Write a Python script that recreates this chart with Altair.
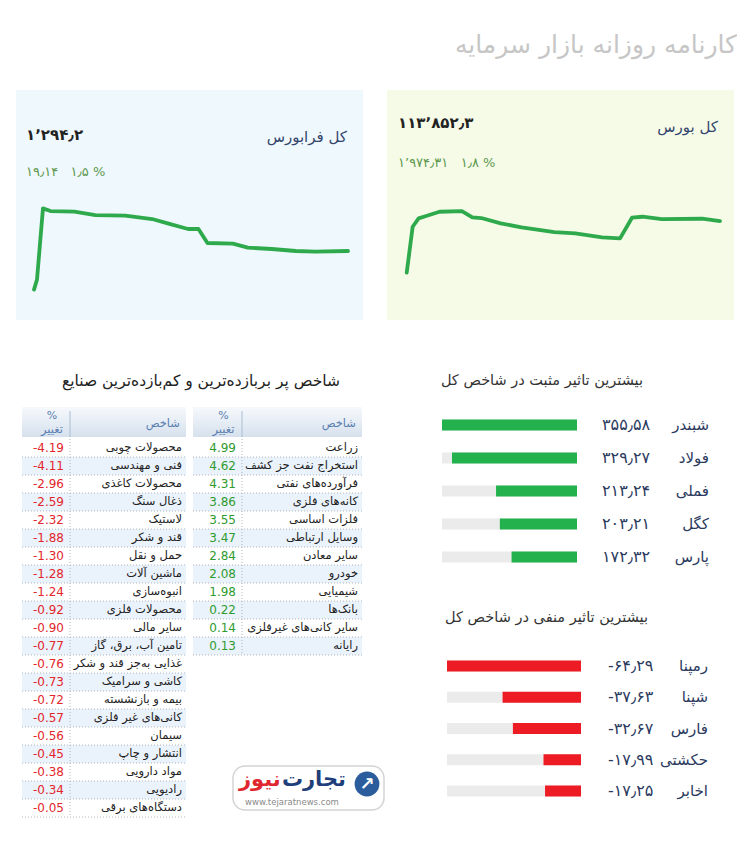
import altair as alt
import pandas as pd

FA = "DejaVu Sans"

# ---------------- data ----------------
title_text = "کارنامه روزانه بازار سرمایه"

fara_name = "کل فرابورس"
fara_value = 1294.2
fara_change = 19.14
fara_pct = 1.5
fara_minutes = [0, 2, 6, 11, 27, 41, 61, 79, 90, 103, 110, 116, 133, 143, 159, 175, 188, 210]
fara_index = [1288.4, 1289.9, 1300.6, 1300.2, 1300.1, 1299.6, 1299.5, 1299.0, 1298.3, 1297.5,
              1297.5, 1295.4, 1295.3, 1294.7, 1294.5, 1294.2, 1294.1, 1294.2]

bourse_name = "کل بورس"
bourse_value = 113852.3
bourse_change = 1974.31
bourse_pct = 1.8
bourse_minutes = [0, 4, 8, 13, 22, 37, 44, 50, 63, 77, 99, 113, 131, 143, 151, 158, 171, 198, 210]
bourse_index = [111991, 113647, 113949, 114032, 114187, 114212, 113985, 113960, 113769, 113625,
                113456, 113409, 113265, 113229, 113971, 114007, 113924, 113935, 113852]

table_title = "شاخص پر بربازده‌ترین و کم‌بازده‌ترین صنایع"
col_name = "شاخص"
col_pct1 = "%"
col_pct2 = "تغییر"

pos_sectors = ["زراعت", "استخراج نفت جز کشف", "فرآورده‌های نفتی", "کانه‌های فلزی", "فلزات اساسی",
               "وسایل ارتباطی", "سایر معادن", "خودرو", "شیمیایی", "بانک‌ها",
               "سایر کانی‌های غیرفلزی", "رایانه"]
pos_changes = [4.99, 4.62, 4.31, 3.86, 3.55, 3.47, 2.84, 2.08, 1.98, 0.22, 0.14, 0.13]

neg_sectors = ["محصولات چوبی", "فنی و مهندسی", "محصولات کاغذی", "ذغال سنگ", "لاستیک", "قند و شکر",
               "حمل و نقل", "ماشین آلات", "انبوه‌سازی", "محصولات فلزی", "سایر مالی",
               "تامین آب، برق، گاز", "غذایی به‌جز قند و شکر", "کاشی و سرامیک", "بیمه و بازنشسته",
               "کانی‌های غیر فلزی", "سیمان", "انتشار و چاپ", "مواد دارویی", "رادیویی",
               "دستگاه‌های برقی"]
neg_changes = [-4.19, -4.11, -2.96, -2.59, -2.32, -1.88, -1.30, -1.28, -1.24, -0.92, -0.90,
               -0.77, -0.76, -0.73, -0.72, -0.57, -0.56, -0.45, -0.38, -0.34, -0.05]

pos_title = "بیشترین تاثیر مثبت در شاخص کل"
pos_symbols = ["شبندر", "فولاد", "فملی", "کگل", "پارس"]
pos_impact = [355.58, 329.27, 213.24, 203.21, 172.32]

neg_title = "بیشترین تاثیر منفی در شاخص کل"
neg_symbols = ["رمپنا", "شپنا", "فارس", "حکشتی", "اخابر"]
neg_impact = [-64.29, -37.63, -32.67, -17.99, -17.25]

logo_a = "تجارت"
logo_b = "نیوز"
logo_url = "www.tejaratnews.com"

# ---------------- helpers ----------------
FA_DIGITS = str.maketrans("0123456789", "۰۱۲۳۴۵۶۷۸۹")


def fa_num(v, dec):
    s = f"{v:,.{dec}f}"
    s = s.replace(",", "٬").replace(".", "٫")
    return s.translate(FA_DIGITS)


NBSP = "\u00a0"

# ---------------- title ----------------
title_chart = alt.Chart(pd.DataFrame({"t": [title_text]})).mark_text(
    align="right", baseline="middle", font=FA, fontSize=25, color="#c6c6c6"
).encode(text="t:N", x=alt.value(721), y=alt.value(45)).properties(width=718, height=90)


# ---------------- index cards ----------------
def card(name, value, change, pct, minutes, index, fill, xr, ydom, yr, ys, name_x, left_x):
    df = pd.DataFrame({"m": minutes, "v": index})
    line = alt.Chart(df).mark_line(
        color="#2eaa4c", strokeWidth=3.8, strokeCap="round", strokeJoin="round"
    ).encode(
        x=alt.X("m:Q", axis=None, scale=alt.Scale(domain=[0, 210], range=xr, nice=False, zero=False)),
        y=alt.Y("v:Q", axis=None, scale=alt.Scale(domain=ydom, range=yr, nice=False, zero=False)),
    )
    tdf = pd.DataFrame({
        "name": [name],
        "val": [fa_num(value, 1)],
        "chg": [fa_num(change, 2) + NBSP * 3 + fa_num(pct, 1) + " %"],
    })
    base = alt.Chart(tdf)
    t_name = base.mark_text(align="right", baseline="middle", font=FA, fontSize=15,
                            color="#34466e").encode(text="name:N", x=alt.value(name_x), y=alt.value(ys[0]))
    t_val = base.mark_text(align="left", baseline="middle", font=FA, fontSize=15, fontWeight="bold",
                           color="#222222").encode(text="val:N", x=alt.value(left_x), y=alt.value(ys[1]))
    t_chg = base.mark_text(align="left", baseline="middle", font=FA, fontSize=13,
                           color="#5f9850").encode(text="chg:N", x=alt.value(left_x), y=alt.value(ys[2]))
    return alt.layer(line, t_name, t_val, t_chg).properties(
        width=347, height=230, view=alt.ViewBackground(fill=fill, strokeWidth=0)
    )


card_left = card(fara_name, fara_value, fara_change, fara_pct, fara_minutes, fara_index,
                 "#eef8fd", [18, 332], [1288, 1301], [202.3, 115.7], (47, 45, 82), 331, 10)
card_right = card(bourse_name, bourse_value, bourse_change, bourse_pct, bourse_minutes, bourse_index,
                  "#f5fbe7", [19.7, 333], [111800, 114300], [188.0, 118.6], (37, 33, 73), 331, 11)

# ---------------- tables ----------------
yrow = alt.Scale(domain=[1, 21], range=[128, 488], nice=False, zero=False, padding=0)


def table(names, changes, L, D, R, num_color):
    df = pd.DataFrame({"name": names, "chg": changes})
    df["row"] = list(range(1, len(df) + 1))
    df["label"] = [f"{v:.2f}" for v in changes]
    base = alt.Chart(df).transform_calculate(y0="datum.row - 0.5", y1="datum.row + 0.5")
    bg = base.mark_rect().encode(
        x=alt.value(L), x2=alt.value(R),
        y=alt.Y("y0:Q", scale=yrow, axis=None), y2="y1:Q",
        color=alt.condition("datum.row % 2 == 0", alt.value("#eaf2fc"), alt.value("#ffffff")),
    )
    sep = base.mark_rule(strokeDash=[1, 2], color="#aeb6bf", strokeWidth=1).encode(
        x=alt.value(L), x2=alt.value(R), y=alt.Y("y1:Q", scale=yrow, axis=None)
    )
    vdiv = base.mark_rule(strokeDash=[1, 2], color="#aeb6bf", strokeWidth=1).encode(
        x=alt.value(D), y=alt.Y("y0:Q", scale=yrow, axis=None), y2="y1:Q"
    )
    nums = base.mark_text(align="right", baseline="middle", font=FA, fontSize=12,
                          color=num_color).encode(
        x=alt.value(D - 6), y=alt.Y("row:Q", scale=yrow, axis=None), text="label:N")
    nms = base.mark_text(align="right", baseline="middle", font=FA, fontSize=11.5,
                         color="#222222").encode(
        x=alt.value(R - 4), y=alt.Y("row:Q", scale=yrow, axis=None), text="name:N")
    hdf = pd.DataFrame({"a": [col_name], "b": [col_pct1], "c": [col_pct2]})
    hbase = alt.Chart(hdf)
    grad = alt.Gradient(gradient="linear",
                        stops=[alt.GradientStop(color="#f6f9fc", offset=0),
                               alt.GradientStop(color="#d6e1ed", offset=1)],
                        x1=0, x2=0, y1=0, y2=1)
    hrect = hbase.mark_rect(color=grad).encode(x=alt.value(L), x2=alt.value(R),
                                               y=alt.value(87), y2=alt.value(117))
    hdiv = hbase.mark_rule(color="#a9bdd5", strokeWidth=1).encode(
        x=alt.value(D), y=alt.value(91), y2=alt.value(117))
    hcol = "#5b7fb1"
    h1 = hbase.mark_text(align="right", baseline="middle", font=FA, fontSize=11.5, color=hcol).encode(
        text="a:N", x=alt.value(R - 6), y=alt.value(104))
    cx = (L + D) / 2 + 6
    h2 = hbase.mark_text(align="center", baseline="middle", font=FA, fontSize=11, color=hcol).encode(
        text="b:N", x=alt.value(cx), y=alt.value(96))
    h3 = hbase.mark_text(align="center", baseline="middle", font=FA, fontSize=11.5, color=hcol).encode(
        text="c:N", x=alt.value(cx), y=alt.value(110))
    return [bg, sep, vdiv, nums, nms, hrect, hdiv, h1, h2, h3]


tt = alt.Chart(pd.DataFrame({"t": [table_title]})).mark_text(
    align="right", baseline="middle", font=FA, fontSize=15.5, color="#222222"
).encode(text="t:N", x=alt.value(324), y=alt.value(61))

ldf = pd.DataFrame({"a": [logo_a], "b": [logo_b], "u": [logo_url], "i": ["↗"]})
lb = alt.Chart(ldf)
logo_box = lb.mark_rect(cornerRadius=12, fill="#ffffff", stroke="#d4d4d4", strokeWidth=1.5).encode(
    x=alt.value(217), x2=alt.value(368), y=alt.value(446), y2=alt.value(490))
logo_circle = lb.mark_circle(size=615, color="#2b5c9c", opacity=1).encode(
    x=alt.value(351), y=alt.value(464))
logo_arrow = lb.mark_text(font=FA, fontSize=18, fontWeight="bold", color="#ffffff").encode(
    text="i:N", x=alt.value(351), y=alt.value(465))
logo_t1 = lb.mark_text(align="right", baseline="middle", font=FA, fontSize=21, fontWeight="bold",
                       color="#1f3f7a").encode(text="a:N", x=alt.value(330), y=alt.value(460))
logo_t2 = lb.mark_text(align="left", baseline="middle", font=FA, fontSize=21, fontWeight="bold",
                       color="#e0262e").encode(text="b:N", x=alt.value(223), y=alt.value(460))
logo_u = lb.mark_text(align="center", baseline="middle", font=FA, fontSize=8.5,
                      color="#8a8a8a").encode(text="u:N", x=alt.value(276), y=alt.value(482))

table_panel = alt.layer(
    *table(neg_sectors, neg_changes, 6, 54, 170, "#e2262c"),
    *table(pos_sectors, pos_changes, 177, 226, 346, "#2f9b2f"),
    tt, logo_box, logo_circle, logo_arrow, logo_t1, logo_t2, logo_u,
).properties(width=347, height=539)


# ---------------- impact bars ----------------
def impact(symbols, vals, xdom, xr, yr, label_x, name_x, color):
    df = pd.DataFrame({"sym": symbols, "v": vals})
    df["rank"] = list(range(1, len(df) + 1))
    df["zero"] = 0
    df["full"] = min(vals) if min(vals) < 0 else max(vals)
    df["label"] = [fa_num(v, 2) for v in vals]
    xs = alt.Scale(domain=xdom, range=xr, nice=False, zero=False, padding=0)
    ys = alt.Scale(domain=[1, 5], range=yr, nice=False, zero=False, padding=0)
    base = alt.Chart(df)
    bg = base.mark_bar(size=11, orient="horizontal", color="#ebebeb").encode(
        x=alt.X("full:Q", scale=xs, axis=None), x2="zero:Q", y=alt.Y("rank:Q", scale=ys, axis=None))
    fg = base.mark_bar(size=11, orient="horizontal", color=color).encode(
        x=alt.X("v:Q", scale=xs, axis=None), x2="zero:Q", y=alt.Y("rank:Q", scale=ys, axis=None))
    lab = base.mark_text(align="left", baseline="middle", font=FA, fontSize=16,
                         color="#2b3a5e").encode(
        x=alt.value(label_x), y=alt.Y("rank:Q", scale=ys, axis=None), text="label:N")
    nm = base.mark_text(align="right", baseline="middle", font=FA, fontSize=15,
                        color="#2b3a5e").encode(
        x=alt.value(name_x), y=alt.Y("rank:Q", scale=ys, axis=None), text="sym:N")
    return alt.layer(bg, fg, lab, nm)


pos_layer = impact(pos_symbols, pos_impact, [0, max(pos_impact)], [190, 55], [105, 237], 215, 322, "#22b14c")
neg_layer = impact(neg_symbols, neg_impact, [min(neg_impact), 0], [60, 194], [346, 471], 221, 321, "#ed1c24")

bt = alt.Chart(pd.DataFrame({"p": [pos_title], "n": [neg_title]}))
pos_t = bt.mark_text(align="right", baseline="middle", font=FA, fontSize=14.5, color="#333333").encode(
    text="p:N", x=alt.value(256), y=alt.value(61))
neg_t = bt.mark_text(align="right", baseline="middle", font=FA, fontSize=14.5, color="#333333").encode(
    text="n:N", x=alt.value(261), y=alt.value(298))

bars_panel = alt.layer(pos_layer, neg_layer, pos_t, neg_t).resolve_scale(
    x="independent", y="independent").properties(width=347, height=539)

row1 = alt.hconcat(card_left, card_right, spacing=24, bounds="flush")
row2 = alt.hconcat(table_panel, bars_panel, spacing=24, bounds="flush")

chart = alt.vconcat(title_chart, row1, row2, spacing=0).properties(
    padding={"left": 16, "top": 0, "right": 0, "bottom": 0}
).configure_view(strokeWidth=0)

chart.save("out.html", embed_options={"renderer": "svg", "actions": False})
